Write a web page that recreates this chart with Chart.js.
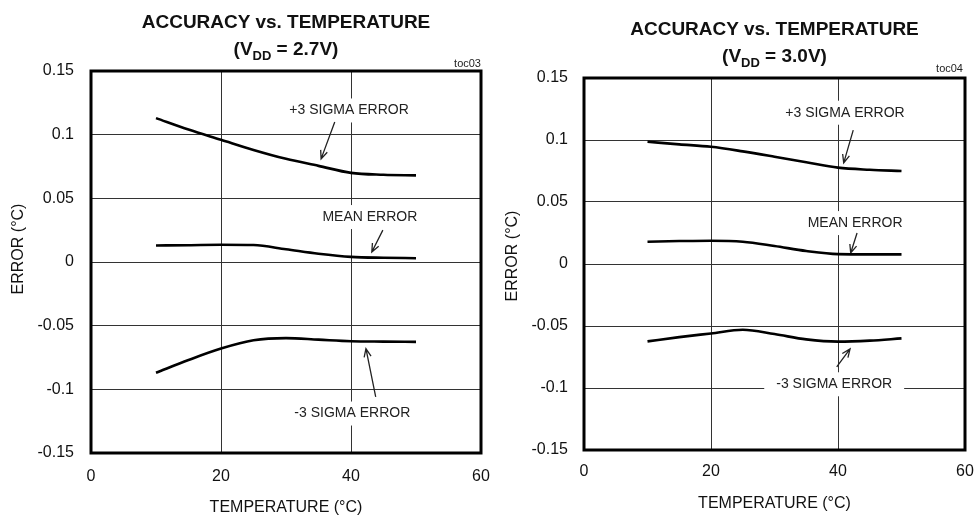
<!DOCTYPE html>
<html>
<head>
<meta charset="utf-8">
<script src="https://cdn.jsdelivr.net/npm/chart.js@4.4.1/dist/chart.umd.min.js"></script>
<style>
body{margin:0;background:#fff;font-family:"Liberation Sans",Arial,sans-serif;color:#111;}
#wrap{position:relative;width:976px;height:520px;overflow:hidden;}
.box{position:absolute;top:0;height:520px;}
.ttl{position:absolute;text-align:center;font-weight:bold;font-size:19px;line-height:22px;white-space:nowrap;}
.ttl span{font-size:13px;position:relative;top:5px;}
.toc{position:absolute;font-size:11px;line-height:12px;color:#222;text-align:right;}
</style>
</head>
<body>
<div id="wrap">
  <div class="box" style="left:0;width:500px">
    <div class="ttl" style="left:91px;width:390px;top:11px">ACCURACY vs. TEMPERATURE</div>
    <div class="ttl" style="left:91px;width:390px;top:38px">(V<span>DD</span> = 2.7V)</div>
    <div class="toc" style="left:381px;width:100px;top:57px">toc03</div>
    <canvas id="c1" width="500" height="520"></canvas>
  </div>
  <div class="box" style="left:488px;width:488px">
    <div class="ttl" style="left:96px;width:381px;top:18px">ACCURACY vs. TEMPERATURE</div>
    <div class="ttl" style="left:96px;width:381px;top:45px">(V<span>DD</span> = 3.0V)</div>
    <div class="toc" style="left:375px;width:100px;top:62px">toc04</div>
    <canvas id="c2" width="488" height="520"></canvas>
  </div>
</div>
<script>
var temps=[10,15,20,25,30,35,40,45,50];

// VDD = 2.7V
var plus27 =[0.113,0.104,0.096,0.088,0.081,0.0755,0.070,0.0685,0.068];
var mean27 =[0.013,0.0132,0.0135,0.0133,0.010,0.0065,0.004,0.0033,0.003];
var minus27=[-0.087,-0.077,-0.068,-0.0615,-0.0598,-0.061,-0.0622,-0.0625,-0.0627];

// VDD = 3.0V
var plus30 =[0.0986,0.0965,0.0945,0.0908,0.0865,0.082,0.0777,0.076,0.075];
var mean30 =[0.018,0.0185,0.0188,0.018,0.0145,0.0105,0.008,0.0078,0.0078];
var minus30=[-0.0624,-0.059,-0.056,-0.053,-0.0565,-0.0608,-0.0626,-0.0618,-0.060];

var xTicks=[0,20,40,60];
var yTicks=[-0.15,-0.1,-0.05,0,0.05,0.1,0.15];

// callout labels, in data units
var notes27=[
  {text:'+3 SIGMA ERROR',x:39.7,y:0.119,from:[37.5,0.110],to:[35.4,0.081]},
  {text:'MEAN ERROR',x:42.9,y:0.0353,from:[44.9,0.025],to:[43.2,0.0079]},
  {text:'-3 SIGMA ERROR',x:40.2,y:-0.119,from:[43.8,-0.106],to:[42.3,-0.068]}
];
var notes30=[
  {text:'+3 SIGMA ERROR',x:41.1,y:0.122,from:[42.4,0.108],to:[40.9,0.0815]},
  {text:'MEAN ERROR',x:42.7,y:0.033,from:[43.0,0.025],to:[42.0,0.0089]},
  {text:'-3 SIGMA ERROR',x:39.4,y:-0.097,from:[39.8,-0.083],to:[41.9,-0.0685]}
];

function pts(vals){
  var out=[];
  for(var i=0;i<temps.length;i++) out.push({x:temps[i],y:vals[i]});
  return out;
}

var calloutPlugin={
  id:'callouts',
  beforeDatasetsDraw:function(chart){
    var ctx=chart.ctx, xs=chart.scales.x, ys=chart.scales.y;
    var notes=chart.options.plugins.callouts.notes;
    ctx.save();
    ctx.font='14px "Liberation Sans", Arial, sans-serif';
    ctx.textAlign='center';
    ctx.textBaseline='middle';
    for(var i=0;i<notes.length;i++){
      var n=notes[i];
      var px=xs.getPixelForValue(n.x), py=ys.getPixelForValue(n.y);
      var w=ctx.measureText(n.text).width;
      ctx.fillStyle='#fff';
      ctx.fillRect(px-w/2-12,py-12,w+24,24);
      ctx.fillStyle='#222';
      ctx.fillText(n.text,px,py);
      var x1=xs.getPixelForValue(n.from[0]), y1=ys.getPixelForValue(n.from[1]);
      var x2=xs.getPixelForValue(n.to[0]), y2=ys.getPixelForValue(n.to[1]);
      var a=Math.atan2(y2-y1,x2-x1);
      ctx.strokeStyle='#222';
      ctx.lineWidth=1.3;
      ctx.beginPath();
      ctx.moveTo(x1,y1);ctx.lineTo(x2,y2);
      ctx.moveTo(x2-9*Math.cos(a-0.4),y2-9*Math.sin(a-0.4));
      ctx.lineTo(x2,y2);
      ctx.lineTo(x2-9*Math.cos(a+0.4),y2-9*Math.sin(a+0.4));
      ctx.stroke();
    }
    ctx.restore();
  },
  afterDraw:function(chart){
    var a=chart.chartArea, ctx=chart.ctx, o=chart.options.plugins.callouts;
    ctx.save();
    ctx.strokeStyle='#000';
    ctx.lineWidth=3;
    ctx.strokeRect(a.left,a.top,a.right-a.left,a.bottom-a.top);
    // y axis title
    ctx.translate(o.ytx,o.yty);
    ctx.rotate(-Math.PI/2);
    ctx.font='16px "Liberation Sans", Arial, sans-serif';
    ctx.fillStyle='#111';
    ctx.textAlign='center';
    ctx.textBaseline='middle';
    ctx.fillText('ERROR (°C)',0,0);
    ctx.restore();
  }
};

function makeChart(id,plus,mean,minus,notes,g){
  var line={borderColor:'#000',borderWidth:2.6,pointRadius:0,tension:0.4,cubicInterpolationMode:'monotone',fill:false};
  var ctx=document.getElementById(id).getContext('2d');
  return new Chart(ctx,{
    type:'line',
    data:{datasets:[
      Object.assign({label:'+3 SIGMA ERROR',data:pts(plus)},line),
      Object.assign({label:'MEAN ERROR',data:pts(mean)},line),
      Object.assign({label:'-3 SIGMA ERROR',data:pts(minus)},line)
    ]},
    options:{
      responsive:false,
      animation:false,
      layout:{padding:{top:g.top,right:g.right,left:0,bottom:0}},
      plugins:{legend:{display:false},tooltip:{enabled:false},callouts:{notes:notes,ytx:g.ytx,yty:g.yty}},
      scales:{
        x:{type:'linear',min:xTicks[0],max:xTicks[xTicks.length-1],
          afterBuildTicks:function(s){s.ticks=xTicks.map(function(v){return {value:v};});},
          afterFit:function(s){s.height=g.xh;s.paddingLeft=0;s.paddingRight=0;},
          grid:{color:'#333',lineWidth:1,drawTicks:false,tickLength:0},
          border:{display:false},
          ticks:{color:'#111',font:{size:16,family:'"Liberation Sans", Arial'},padding:g.xpad},
          title:{display:true,text:'TEMPERATURE (°C)',color:'#111',font:{size:16,family:'"Liberation Sans", Arial'},padding:{top:0,bottom:g.xtpad}}
        },
        y:{type:'linear',min:yTicks[0],max:yTicks[yTicks.length-1],
          afterBuildTicks:function(s){s.ticks=yTicks.map(function(v){return {value:v};});},
          afterFit:function(s){s.width=g.yw;s.paddingTop=0;s.paddingBottom=0;},
          grid:{color:'#333',lineWidth:1,drawTicks:false,tickLength:0},
          border:{display:false},
          ticks:{color:'#111',font:{size:16,family:'"Liberation Sans", Arial'},padding:g.ypad,
            callback:function(v){return String(+v.toFixed(2));}},
          title:{display:false}
        }
      }
    },
    plugins:[calloutPlugin]
  });
}

makeChart('c1',plus27,mean27,minus27,notes27,{top:71,right:19,xh:67,yw:91,xpad:14,ypad:17,xtpad:3,ytx:19,yty:249});
makeChart('c2',plus30,mean30,minus30,notes30,{top:78,right:11,xh:70,yw:96,xpad:12,ypad:16,xtpad:7,ytx:25,yty:256});
</script>
</body>
</html>
